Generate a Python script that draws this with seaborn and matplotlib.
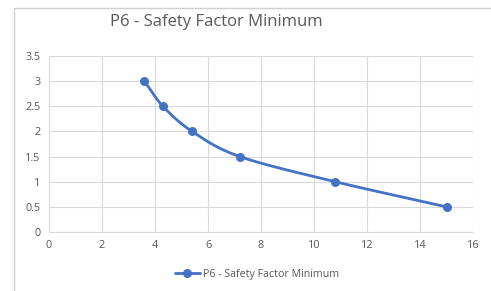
import numpy as np
import pandas as pd
import seaborn as sns
import matplotlib.pyplot as plt
from matplotlib.patches import Rectangle
from matplotlib.lines import Line2D

# data
x_vals = [3.6, 4.3, 5.4, 7.2, 10.8, 15.0]
sf_vals = [3.0, 2.5, 2.0, 1.5, 1.0, 0.5]
series_name = 'P6 - Safety Factor Minimum'
x_ticks = [0, 2, 4, 6, 8, 10, 12, 14, 16]
y_ticks = [0, 0.5, 1, 1.5, 2, 2.5, 3, 3.5]
y_tick_labels = ['0', '0.5', '1', '1.5', '2', '2.5', '3', '3.5']

blue = '#4472C4'
grey_txt = '#595959'
grid_col = '#d9d9d9'


def smooth(xs, ys, n=30):
    # catmull-rom style smoothing, like excel's "smoothed line"
    xs = np.asarray(xs, float)
    ys = np.asarray(ys, float)
    px = np.concatenate([[2 * xs[0] - xs[1]], xs, [2 * xs[-1] - xs[-2]]])
    py = np.concatenate([[2 * ys[0] - ys[1]], ys, [2 * ys[-1] - ys[-2]]])
    out_x, out_y = [], []
    t = np.linspace(0, 1, n)
    for i in range(1, len(px) - 2):
        p0x, p1x, p2x, p3x = px[i - 1:i + 3]
        p0y, p1y, p2y, p3y = py[i - 1:i + 3]
        # bezier control points
        c1x = p1x + (p2x - p0x) / 6
        c1y = p1y + (p2y - p0y) / 6
        c2x = p2x - (p3x - p1x) / 6
        c2y = p2y - (p3y - p1y) / 6
        bx = (1 - t) ** 3 * p1x + 3 * (1 - t) ** 2 * t * c1x + 3 * (1 - t) * t ** 2 * c2x + t ** 3 * p2x
        by = (1 - t) ** 3 * p1y + 3 * (1 - t) ** 2 * t * c1y + 3 * (1 - t) * t ** 2 * c2y + t ** 3 * p2y
        out_x.extend(bx)
        out_y.extend(by)
    return np.array(out_x), np.array(out_y)


sns.set_style('white')
plt.rcParams['font.family'] = ['Open Sans', 'DejaVu Sans']

fig = plt.figure(figsize=(4.91, 2.91), dpi=100)
ax = fig.add_axes([49 / 491, 1 - 232 / 291, (473 - 49) / 491, (232 - 56) / 291])

df = pd.DataFrame({'x': x_vals, 'sf': sf_vals})
sx, sy = smooth(df['x'], df['sf'])
ax.plot(sx, sy, color=blue, lw=2, solid_capstyle='round', zorder=3)
sns.scatterplot(data=df, x='x', y='sf', ax=ax, color=blue, s=42,
                edgecolor=blue, linewidth=0, zorder=4, legend=False)

ax.set_xlim(0, 16)
ax.set_ylim(0, 3.5)
ax.set_xticks(x_ticks)
ax.set_yticks(y_ticks)
ax.set_yticklabels(y_tick_labels)
ax.grid(True, color=grid_col, lw=0.8)
ax.set_axisbelow(True)
for side in ['top', 'right', 'left']:
    ax.spines[side].set_visible(False)
ax.spines['bottom'].set_color(grid_col)
ax.spines['bottom'].set_linewidth(0.8)
ax.tick_params(length=0, labelsize=7.8, colors=grey_txt, pad=6)
ax.set_xlabel('')
ax.set_ylabel('')

# chart frame like the excel chart border
fig.patches.append(Rectangle((14 / 491, -0.1), 1.2, 1 - 8 / 291 + 0.1,
                             transform=fig.transFigure, fill=False,
                             edgecolor='#d0d0d0', lw=1))

fig.text(216 / 491, 1 - 22 / 291, series_name, ha='center', va='center',
         fontsize=12, color=grey_txt)

handle = Line2D([0], [0], color=blue, lw=2, marker='o', markersize=5.5)
fig.legend([handle], [series_name], loc='center', bbox_to_anchor=(257 / 491, 1 - 274 / 291),
           frameon=False, fontsize=7.7, labelcolor=grey_txt, handlelength=2.3,
           handletextpad=0.3)

plt.savefig('out.png', dpi=100)
